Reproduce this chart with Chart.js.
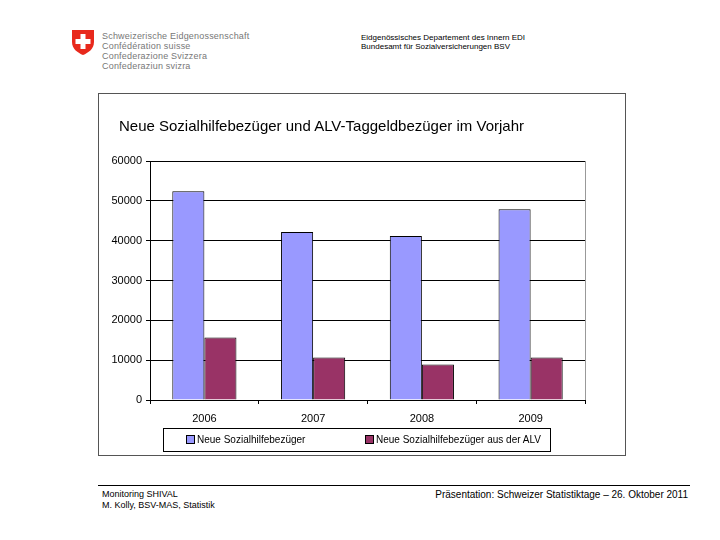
<!DOCTYPE html>
<html>
<head>
<meta charset="utf-8">
<script src="https://cdn.jsdelivr.net/npm/chart.js@4"></script>
<style>
    body { margin: 0; width: 720px; height: 540px; position: relative; background: #fff; font-family: "Liberation Sans", Arial, sans-serif; overflow: hidden; }
    .abs { position: absolute; white-space: nowrap; }
    .fed { color: #777; font-size: 9px; line-height: 10px; letter-spacing: 0.2px; }
    .dept { font-size: 8px; line-height: 9px; color: #000; }
    .box { position: absolute; left: 98px; top: 93px; width: 526px; height: 361px; border: 1px solid #555; }
    .title { font-size: 15px; color: #000; }
    .legend { position: absolute; left: 163px; top: 428px; width: 386px; height: 22px; border: 1px solid #000; font-size: 10px; }
    .sw { display: inline-block; width: 7px; height: 7px; border: 1px solid #000; vertical-align: -1px; margin-right: 2px; }
    .foot { font-size: 9px; line-height: 11px; color: #000; }
</style>
</head>
<body>
<svg class="abs" style="left:71px; top:29px;" width="24" height="27" viewBox="0 0 24 27">
    <path d="M1 1 H23 V13 C23 20 17 24 12 26 C7 24 1 20 1 13 Z" fill="#e8291c"/>
    <rect x="9.5" y="5" width="5" height="15" fill="#fff"/>
    <rect x="4.5" y="10" width="15" height="5" fill="#fff"/>
</svg>
<div class="abs fed" style="left:102px; top:31px;">Schweizerische Eidgenossenschaft<br>Confédération suisse<br>Confederazione Svizzera<br>Confederaziun svizra</div>
<div class="abs dept" style="left:361px; top:33px;">Eidgenössisches Departement des Innern EDI<br>Bundesamt für Sozialversicherungen BSV</div>

<div class="box">
    <canvas id="chart" width="526" height="361"></canvas>
</div>
<div class="abs title" style="left:119px; top:117px;">Neue Sozialhilfebezüger und ALV-Taggeldbezüger im Vorjahr</div>
<div class="legend">
    <span class="abs" style="left:22px; top:5px;"><span class="sw" style="background:#9999ff"></span>Neue Sozialhilfebezüger</span>
    <span class="abs" style="left:201px; top:5px;"><span class="sw" style="background:#993366"></span>Neue Sozialhilfebezüger aus der ALV</span>
</div>

<div class="abs" style="left:98px; top:485px; width:592px; border-top:1px solid #000;"></div>
<div class="abs foot" style="left:102px; top:489px;">Monitoring SHIVAL<br>M. Kolly, BSV-MAS, Statistik</div>
<div class="abs foot" style="right:32px; top:489px; font-size:10px;">Präsentation: Schweizer Statistiktage – 26. Oktober 2011</div>

<script>
const years = ['2006', '2007', '2008', '2009'];
const neueSozialhilfe = [52400, 42200, 41200, 47900];
const neueAusALV = [15700, 10700, 8900, 10700];
const yTicks = [0, 10000, 20000, 30000, 40000, 50000, 60000];

// grey right border of the plot area, as in the Excel original
const plotBorder = {
    id: 'plotBorder',
    afterDatasetsDraw(chart) {
        const { ctx, chartArea: a } = chart;
        ctx.save();
        ctx.strokeStyle = '#999';
        ctx.lineWidth = 1;
        ctx.beginPath();
        ctx.moveTo(Math.round(a.right) + 0.5, a.top);
        ctx.lineTo(Math.round(a.right) + 0.5, a.bottom);
        ctx.stroke();
        ctx.restore();
    }
};

const font = { family: '"Liberation Sans", Arial, sans-serif', size: 11 };

new Chart(document.getElementById('chart'), {
    type: 'bar',
    data: {
        labels: years,
        datasets: [
            { label: 'Neue Sozialhilfebezüger', data: neueSozialhilfe, backgroundColor: '#9999ff', borderColor: '#000', borderWidth: 1 },
            { label: 'Neue Sozialhilfebezüger aus der ALV', data: neueAusALV, backgroundColor: '#993366', borderColor: '#000', borderWidth: 1 }
        ]
    },
    options: {
        responsive: false, animation: false,
        layout: { padding: { top: 67, right: 40, left: 0, bottom: 0 } },
        datasets: { bar: { categoryPercentage: 0.59, barPercentage: 1 } },
        plugins: { legend: { display: false }, title: { display: false }, tooltip: { enabled: false } },
        scales: {
            x: {
                grid: { offset: true, drawOnChartArea: false, color: '#000', tickLength: 4 },
                border: { color: '#000' },
                ticks: { color: '#000', font: font, padding: 8 },
                afterFit(s) { s.height = 55; }
            },
            y: {
                min: 0, max: 60000,
                afterBuildTicks(s) { s.ticks = yTicks.map(v => ({ value: v })); },
                grid: { color: '#000', tickLength: 4 },
                border: { color: '#000' },
                ticks: { color: '#000', font: font, padding: 4, callback: v => String(v) },
                afterFit(s) { s.width = 51; }
            }
        }
    },
    plugins: [plotBorder]
});
</script>
</body>
</html>
